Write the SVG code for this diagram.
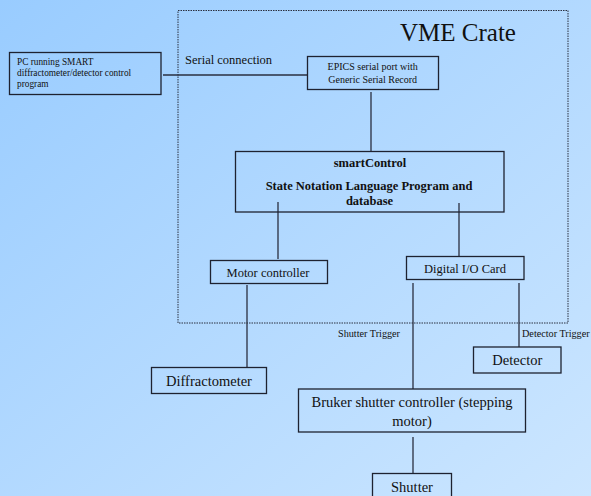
<svg xmlns="http://www.w3.org/2000/svg" width="591" height="496" viewBox="0 0 591 496">
<defs>
<linearGradient id="bg" x1="0" y1="0" x2="1" y2="1">
<stop offset="0" stop-color="#99ccff"/>
<stop offset="1" stop-color="#cce6ff"/>
</linearGradient>
</defs>
<style>
.box{fill:none;stroke:#1e2230;stroke-width:1.3}
.ln{stroke:#2a2f40;stroke-width:1.3;fill:none}
text{font-family:"Liberation Serif","Times New Roman",serif;fill:#111}
.c{text-anchor:middle}
</style>
<rect width="591" height="496" fill="url(#bg)"/>
<g id="vme-crate">
<rect x="178" y="10.5" width="390" height="312.5" fill="none" stroke="#2a3040" stroke-width="1" stroke-dasharray="1.5,1"/>
<text x="458" y="41" font-size="25" class="c">VME Crate</text>
</g>
<g id="connectors">
<line class="ln" x1="163" y1="75" x2="307" y2="75"/>
<line class="ln" x1="371" y1="92" x2="371" y2="151"/>
<line class="ln" x1="278" y1="202" x2="278" y2="259"/>
<line class="ln" x1="459" y1="203" x2="459" y2="257"/>
<line class="ln" x1="247" y1="285" x2="247" y2="367"/>
<line class="ln" x1="413" y1="283" x2="413" y2="389"/>
<line class="ln" x1="519" y1="283" x2="519" y2="347"/>
<line class="ln" x1="413" y1="437" x2="413" y2="473"/>
<text x="185" y="64" font-size="12.5">Serial connection</text>
<text x="338" y="337" font-size="10.2">Shutter Trigger</text>
<text x="522" y="337" font-size="10.2">Detector Trigger</text>
</g>
<g id="pc">
<rect class="box" x="9.5" y="52.5" width="151.5" height="42"/>
<text x="17" y="65" font-size="9.3">PC running SMART</text>
<text x="17" y="76" font-size="9.3">diffractometer/detector control</text>
<text x="17" y="87" font-size="9.3">program</text>
</g>
<g id="epics">
<rect class="box" x="307.5" y="56.5" width="131" height="33"/>
<text x="372.7" y="70" font-size="10" class="c">EPICS serial port with</text>
<text x="372.7" y="83" font-size="10" class="c">Generic Serial Record</text>
</g>
<g id="smartcontrol">
<rect class="box" x="235.5" y="151.5" width="268.5" height="60.5"/>
<text x="370" y="167" font-size="12.5" font-weight="bold" class="c">smartControl</text>
<text x="369" y="190" font-size="12.5" font-weight="bold" class="c">State Notation Language Program and</text>
<text x="369.5" y="205" font-size="12.5" font-weight="bold" class="c">database</text>
</g>
<g id="motor-controller">
<rect class="box" x="210.5" y="260.5" width="117" height="23"/>
<text x="268" y="276.5" font-size="12.5" class="c">Motor controller</text>
</g>
<g id="digital-io">
<rect class="box" x="406.5" y="256.5" width="117.5" height="23"/>
<text x="465" y="272.5" font-size="12.5" class="c">Digital I/O Card</text>
</g>
<g id="diffractometer">
<rect class="box" x="151.5" y="367.5" width="115" height="26"/>
<text x="209" y="385.5" font-size="14.5" class="c">Diffractometer</text>
</g>
<g id="detector">
<rect class="box" x="473.5" y="347" width="87.5" height="26"/>
<text x="517.3" y="365" font-size="14.5" class="c">Detector</text>
</g>
<g id="bruker">
<rect class="box" x="298.5" y="389" width="227" height="43"/>
<text x="412" y="407" font-size="14.5" class="c">Bruker shutter controller (stepping</text>
<text x="412" y="425.5" font-size="14.5" class="c">motor)</text>
</g>
<g id="shutter">
<rect class="box" x="372.5" y="473.5" width="79" height="30"/>
<text x="412" y="492" font-size="14.5" class="c">Shutter</text>
</g>
</svg>
